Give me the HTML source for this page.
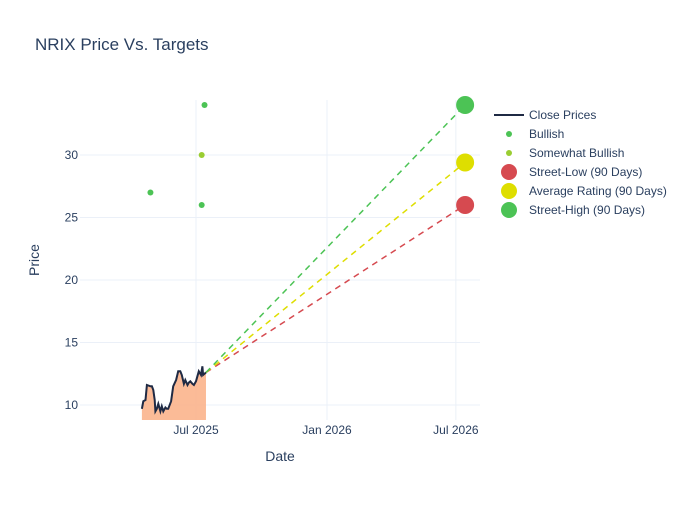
<!DOCTYPE html>
<html><head><meta charset="utf-8"><style>
body{margin:0;background:#fff;font-family:"Liberation Sans",sans-serif}
svg text{font-family:"Liberation Sans",sans-serif;fill:#2a3f5f}
</style></head><body>
<svg id="chart" width="700" height="500" xmlns="http://www.w3.org/2000/svg">
<rect width="700" height="500" fill="#fff"/>
<text x="35" y="50" font-size="17">NRIX Price Vs. Targets</text>
<g id="grid"></g><g id="marks"></g><g id="axes"></g>
<text x="280" y="461" font-size="14" text-anchor="middle">Date</text>
<text transform="translate(39,260) rotate(-90)" font-size="14" text-anchor="middle">Price</text>
<g id="legend"></g>
</svg>
<script>
const closeDates=["2025-04-16","2025-04-18","2025-04-21","2025-04-23","2025-04-28","2025-04-30","2025-05-02","2025-05-04","2025-05-05","2025-05-07","2025-05-09","2025-05-12","2025-05-14","2025-05-16","2025-05-19","2025-05-21","2025-05-23","2025-05-27","2025-05-30","2025-06-03","2025-06-06","2025-06-09","2025-06-11","2025-06-14","2025-06-16","2025-06-19","2025-06-21","2025-06-23","2025-06-26","2025-06-28","2025-07-01","2025-07-03","2025-07-05","2025-07-08","2025-07-10","2025-07-11","2025-07-13","2025-07-15"];
const closePrices=[9.7,10.3,10.4,11.6,11.5,11.5,11.2,10.4,9.5,9.7,10.1,9.5,9.9,9.5,9.8,9.7,9.7,10.3,11.5,12.0,12.7,12.7,12.4,11.7,12.0,11.6,11.8,11.9,11.7,11.6,11.9,12.3,12.7,12.4,13.1,12.4,12.5,12.6];
const bullishDates=["2025-04-28","2025-07-13","2025-07-09"];
const bullishPrices=[27,34,26];
const somewhatDates=["2025-07-09"];
const somewhatPrices=[30];
const targetDate="2026-07-14";
const targetNames=["Street-Low (90 Days)","Average Rating (90 Days)","Street-High (90 Days)"];
const targetValues=[26,29.4,34];
const targetColors=["#d64a50","#dede00","#4cc355"];
const yTicks=[10,15,20,25,30];
const xTickDates=["2025-07-01","2026-01-01","2026-07-01"];
const xTickLabels=["Jul 2025","Jan 2026","Jul 2026"];

const NS="http://www.w3.org/2000/svg";
const L=80,R=480,T=100,B=420;
const d0=Date.parse("2025-07-01"),pxPerDay=131/184;
const xs=d=>196+(Date.parse(d)-d0)/864e5*pxPerDay;
const ys=p=>405-(p-10)*12.5;
function mk(tag,attrs,parent){const e=document.createElementNS(NS,tag);for(const k in attrs)e.setAttribute(k,attrs[k]);parent.appendChild(e);return e;}
const grid=document.getElementById('grid'),marks=document.getElementById('marks'),axes=document.getElementById('axes'),legend=document.getElementById('legend');
yTicks.forEach(v=>{
 const l=mk('line',{x1:L,x2:R,y1:ys(v),y2:ys(v),stroke:'#ebf0f8'},grid);
 
 
 const t=mk('text',{x:L-2,y:ys(v)+4,'font-size':12,'text-anchor':'end'},axes);t.textContent=v;
 
 
});
xTickDates.forEach((d,i)=>{
 const l=mk('line',{x1:xs(d),x2:xs(d),y1:T,y2:B,stroke:'#ebf0f8'},grid);
 
 
 const t=mk('text',{x:xs(d),y:B+14,'font-size':12,'text-anchor':'middle'},axes);t.textContent=xTickLabels[i];
 
 
});
// area + line
let pts=closeDates.map((d,i)=>xs(d).toFixed(1)+','+ys(closePrices[i]).toFixed(1));
const area=mk('polygon',{points:xs(closeDates[0])+','+B+' '+pts.join(' ')+' '+xs(closeDates[closeDates.length-1])+','+B,fill:'#fbb48c',opacity:0.9},marks);


const line=mk('polyline',{points:pts.join(' '),fill:'none',stroke:'#1f2a44','stroke-width':2},marks);


const lastD=closeDates[closeDates.length-1],lastP=closePrices[closePrices.length-1];
targetValues.forEach((v,i)=>{
 const l=mk('line',{x1:xs(lastD),y1:ys(lastP),x2:xs(targetDate),y2:ys(v),stroke:targetColors[i],'stroke-width':1.5,'stroke-dasharray':'6,5'},marks);
 
 
});
bullishDates.forEach((d,i)=>{
 const c=mk('circle',{cx:xs(d),cy:ys(bullishPrices[i]),r:3,fill:'#4cc355'},marks);
 
 
});
somewhatDates.forEach((d,i)=>{
 const c=mk('circle',{cx:xs(d),cy:ys(somewhatPrices[i]),r:3,fill:'#9acd32'},marks);
 
 
});
targetValues.forEach((v,i)=>{
 const c=mk('circle',{cx:xs(targetDate),cy:ys(v),r:9,fill:targetColors[i]},marks);
 
 
});
// legend
const items=[["Close Prices","line","#1f2a44"],["Bullish","s","#4cc355"],["Somewhat Bullish","s","#9acd32"]].concat(targetNames.map((n,i)=>[n,"b",targetColors[i]]));
items.forEach((it,i)=>{
 const y=115+i*19;
 const g=mk('g',{},legend);
 
 
 if(it[1]=="line")mk('line',{x1:494,x2:524,y1:y,y2:y,stroke:it[2],'stroke-width':2},g);
 else mk('circle',{cx:509,cy:y,r:it[1]=="s"?3:8,fill:it[2]},g);
 const t=mk('text',{x:529,y:y+4,'font-size':12},g);t.textContent=it[0];
});
</script>
</body></html>
